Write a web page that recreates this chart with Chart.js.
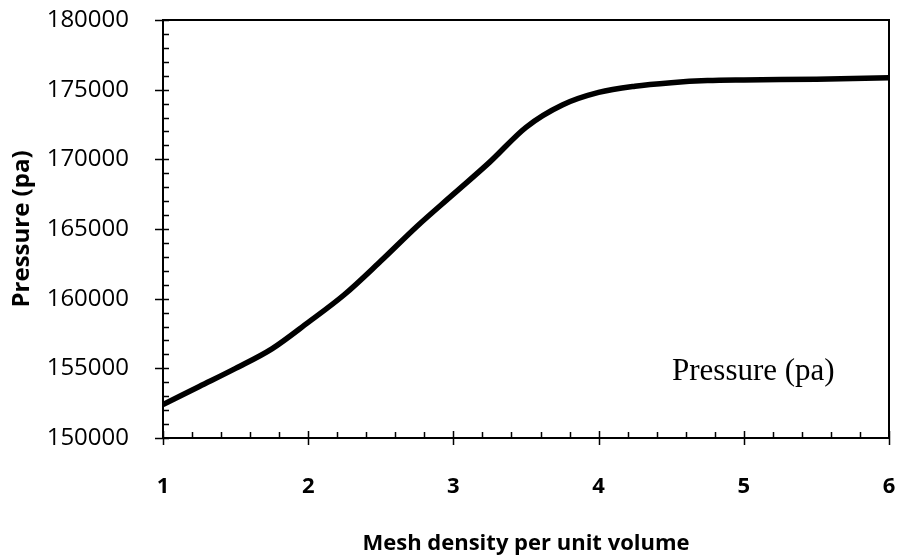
<!DOCTYPE html>
<html>
<head>
<meta charset="utf-8">
<script src="https://cdn.jsdelivr.net/npm/chart.js@4"></script>
<style>
  body { margin: 0; background: #fff; }
  #wrap { width: 898px; height: 555px; }
</style>
</head>
<body>
<div id="wrap"><canvas id="mychart"></canvas></div>
<script>
'use strict'

// data
let meshDensity = [1, 1.25, 1.5, 1.75, 2, 2.25, 2.5, 2.75, 3, 3.25, 3.5, 3.75, 4, 4.25, 4.5, 4.75, 5, 5.5, 6];
let pressure = [152400, 153700, 155000, 156400, 158300, 160300, 162700, 165200, 167500, 169800, 172300, 173900, 174800, 175250, 175500, 175650, 175700, 175750, 175850];

let xTicks = [1, 2, 3, 4, 5, 6];
let yTicks = [150000, 155000, 160000, 165000, 170000, 175000, 180000];

let seriesName = 'Pressure (pa)';
let xTitle = 'Mesh density per unit volume';
let yTitle = 'Pressure (pa)';

let points = [];
for (let i = 0; i < meshDensity.length; i++) {
  points.push({ x: meshDensity[i], y: pressure[i] });
}

// box, ticks and the legend text
let frame = {
  id: 'frame',
  afterDraw(chart) {
    let ctx = chart.ctx;
    let a = chart.chartArea;
    let xs = chart.scales.x;
    let ys = chart.scales.y;
    ctx.save();
    ctx.strokeStyle = '#000';
    ctx.lineWidth = 2;
    ctx.strokeRect(a.left, a.top, a.right - a.left, a.bottom - a.top);

    ctx.lineWidth = 1.5;
    ctx.beginPath();
    // x minor / major ticks
    for (let v = xTicks[0]; v <= xTicks[xTicks.length - 1] + 0.001; v += 0.2) {
      let px = Math.round(xs.getPixelForValue(v)) + 0.5;
      let major = Math.abs(v - Math.round(v)) < 0.01;
      ctx.moveTo(px, a.bottom - (major ? 7 : 6));
      ctx.lineTo(px, a.bottom + (major ? 7 : 0));
    }
    // y minor / major ticks
    for (let v = yTicks[0]; v <= yTicks[yTicks.length - 1]; v += 1000) {
      let py = Math.round(ys.getPixelForValue(v)) + 0.5;
      let major = v % 5000 === 0;
      ctx.moveTo(a.left - (major ? 8 : 0), py);
      ctx.lineTo(a.left + 6, py);
    }
    ctx.stroke();

    ctx.fillStyle = '#000';
    ctx.font = '31px "Liberation Serif"';
    ctx.textAlign = 'left';
    ctx.textBaseline = 'alphabetic';
    ctx.fillText(seriesName, 672, 380);
    ctx.restore();
  }
};

let ctxWindow = document.getElementById('mychart');

new Chart(ctxWindow, {
  type: 'line',
  data: {
    datasets: [{
      label: seriesName,
      data: points,
      borderColor: '#000',
      borderWidth: 5.5,
      pointRadius: 0,
      cubicInterpolationMode: 'monotone',
      fill: false
    }]
  },
  options: {
    responsive: true,
    maintainAspectRatio: false,
    animation: false,
    layout: { padding: { top: 20, right: 9, left: 0, bottom: 0 } },
    plugins: {
      legend: { display: false },
      tooltip: { enabled: false }
    },
    scales: {
      x: {
        type: 'linear',
        min: 1,
        max: 6,
        afterBuildTicks(scale) { scale.ticks = xTicks.map(v => ({ value: v })); },
        afterFit(scale) {
          scale.height = 117;
          scale.paddingLeft = 0;
          scale.paddingRight = 0;
        },
        grid: { display: false },
        border: { display: false },
        ticks: {
          color: '#000',
          padding: 28,
          font: { family: '"Open Sans"', size: 22, weight: 'bold' }
        },
        title: {
          display: true,
          text: xTitle,
          color: '#000',
          padding: { top: 0, bottom: -2 },
          font: { family: '"Open Sans"', size: 22, weight: 'bold' }
        }
      },
      y: {
        min: 150000,
        max: 180000,
        afterBuildTicks(scale) { scale.ticks = yTicks.map(v => ({ value: v })); },
        afterFit(scale) {
          scale.width = 163;
          scale.paddingTop = 0;
          scale.paddingBottom = 0;
        },
        grid: { display: false },
        border: { display: false },
        ticks: {
          color: '#000',
          padding: 26,
          callback: v => String(v),
          font: { family: '"Open Sans"', size: 24 }
        },
        title: {
          display: true,
          text: yTitle,
          color: '#000',
          padding: { top: 8, bottom: 0 },
          font: { family: '"Open Sans"', size: 24, weight: 'bold' }
        }
      }
    }
  },
  plugins: [frame]
});
</script>
</body>
</html>
